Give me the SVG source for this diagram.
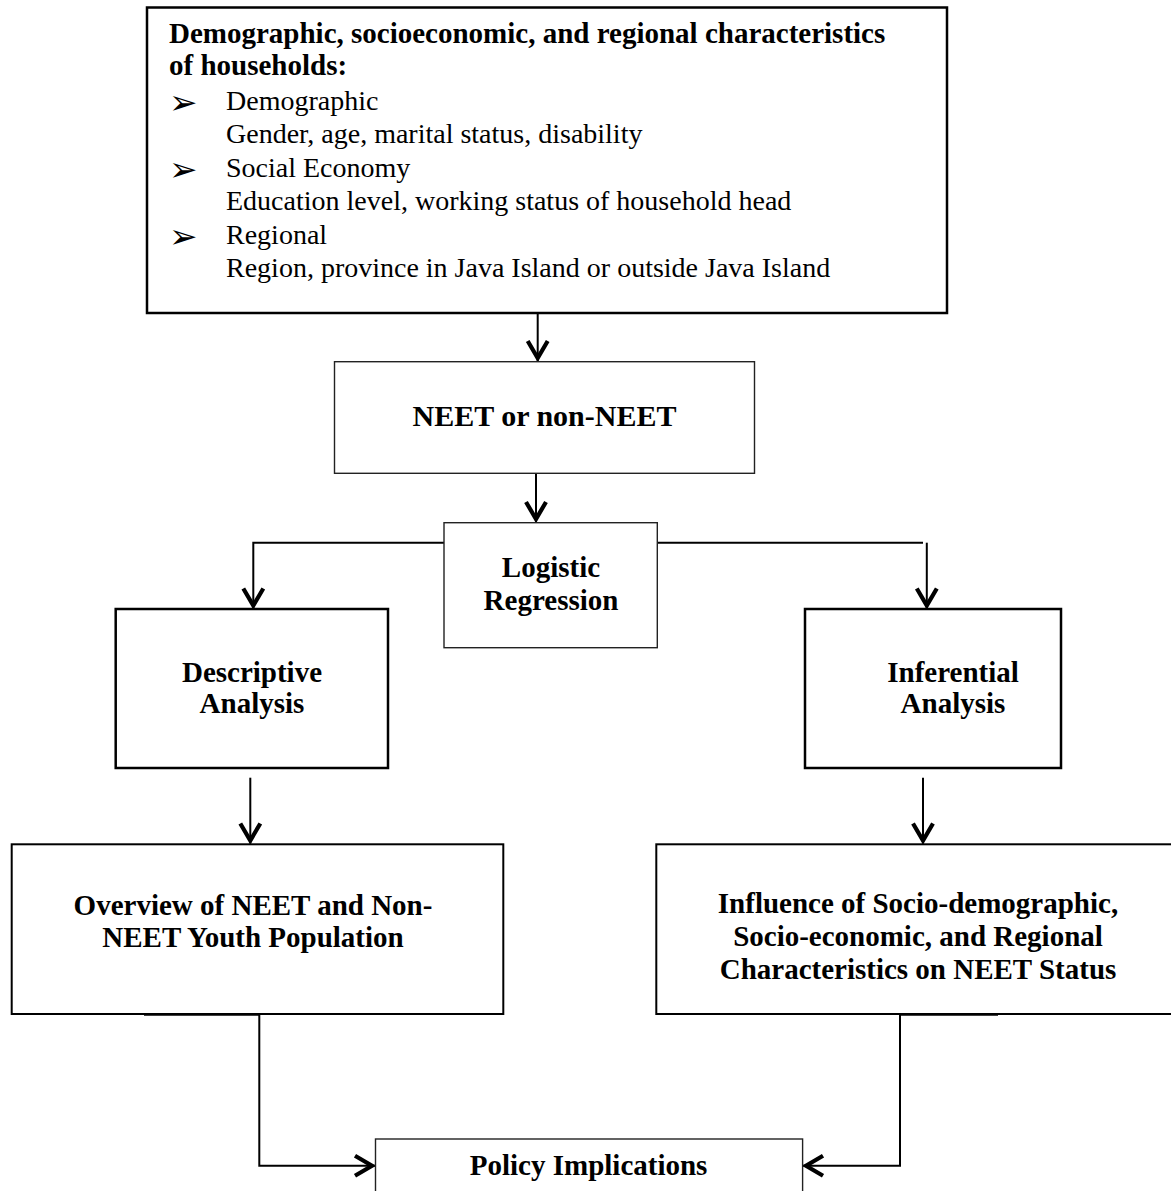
<svg xmlns="http://www.w3.org/2000/svg" width="1171" height="1191" viewBox="0 0 1171 1191">
<style>
  .box { fill: #ffffff; stroke: #000000; }
  .thick { stroke-width: 2.5; }
  .mid { stroke-width: 2; }
  .thin { stroke-width: 1.4; stroke: #222222; }
  .t { font-family: "Liberation Serif", "Times New Roman", serif; fill: #000000; }
  .b { font-weight: bold; font-size: 29px; }
  .r { font-size: 28px; }
  .c { text-anchor: middle; }
  .bul { font-family: "DejaVu Sans", sans-serif; font-size: 34px; fill: #000000; }
  .conn { fill: none; stroke: #000000; stroke-width: 2; }
  .arr { marker-end: url(#head); }
  .seg { fill: none; stroke: #000000; stroke-width: 3.5; }
</style>
<defs>
  <marker id="head" markerUnits="userSpaceOnUse" viewBox="-24 -16 30 32" markerWidth="30" markerHeight="32" refX="3" refY="0" orient="auto" overflow="visible">
    <path d="M -17 -10 L 0 0 L -17 10" fill="none" stroke="#000000" stroke-width="4.2" stroke-linejoin="miter"/>
  </marker>
</defs>
<rect width="1171" height="1191" fill="#ffffff"/>

<g id="connectors">
  <line class="conn arr" x1="537.7" y1="314" x2="537.7" y2="361"/>
  <line class="conn arr" x1="536" y1="473.5" x2="536" y2="522"/>
  <polyline class="conn arr" points="444,542.7 253.3,542.7 253.3,608.5"/>
  <line class="conn" x1="657.3" y1="542.7" x2="923" y2="542.7"/>
  <line class="conn arr" x1="926.8" y1="542.7" x2="926.8" y2="608.5"/>
  <line class="conn arr" x1="250.3" y1="777.7" x2="250.3" y2="843.5"/>
  <line class="conn arr" x1="923" y1="777.7" x2="923" y2="843.5"/>
  <line class="seg" x1="144" y1="1014" x2="260" y2="1014"/>
  <polyline class="conn arr" points="259.3,1014 259.3,1165.7 375,1165.7"/>
  <line class="seg" x1="900" y1="1014" x2="998" y2="1014"/>
  <polyline class="conn arr" points="900,1014 900,1165.7 803,1165.7"/>
</g>

<g id="node-characteristics">
  <rect class="box thick" x="147" y="7.5" width="800" height="305.5"/>
  <text class="t b" x="169" y="43">Demographic, socioeconomic, and regional characteristics</text>
  <text class="t b" x="169" y="75">of households:</text>
  <text class="bul" x="169" y="114">➢</text>
  <text class="t r" x="226" y="110">Demographic</text>
  <text class="t r" x="226" y="143">Gender, age, marital status, disability</text>
  <text class="bul" x="169" y="181">➢</text>
  <text class="t r" x="226" y="177">Social Economy</text>
  <text class="t r" x="226" y="210">Education level, working status of household head</text>
  <text class="bul" x="169" y="248">➢</text>
  <text class="t r" x="226" y="244">Regional</text>
  <text class="t r" x="226" y="277">Region, province in Java Island or outside Java Island</text>
</g>

<g id="node-neet">
  <rect class="box thin" x="334.5" y="361.7" width="420" height="111.6"/>
  <text class="t b c" x="544.5" y="426" style="font-size:30px">NEET or non-NEET</text>
</g>

<g id="node-logistic">
  <rect class="box thin" x="444" y="522.7" width="213.3" height="125"/>
  <text class="t b c" x="551" y="577">Logistic</text>
  <text class="t b c" x="551" y="610">Regression</text>
</g>

<g id="node-descriptive">
  <rect class="box thick" x="115.7" y="609" width="272.3" height="159"/>
  <text class="t b c" x="252" y="682">Descriptive</text>
  <text class="t b c" x="252" y="713">Analysis</text>
</g>

<g id="node-inferential">
  <rect class="box thick" x="805" y="609" width="256" height="159"/>
  <text class="t b c" x="953" y="682">Inferential</text>
  <text class="t b c" x="953" y="713">Analysis</text>
</g>

<g id="node-overview">
  <rect class="box mid" x="11.7" y="844.3" width="491.6" height="169.7"/>
  <text class="t b c" x="253" y="914.5">Overview of NEET and Non-</text>
  <text class="t b c" x="253" y="946.7">NEET Youth Population</text>
</g>

<g id="node-influence">
  <rect class="box mid" x="656.3" y="844.3" width="520" height="169.7"/>
  <text class="t b c" x="918" y="913">Influence of Socio-demographic,</text>
  <text class="t b c" x="918" y="946">Socio-economic, and Regional</text>
  <text class="t b c" x="918" y="979">Characteristics on NEET Status</text>
</g>

<g id="node-policy">
  <rect class="box thin" x="375.5" y="1139" width="427.1" height="70"/>
  <text class="t b c" x="588.6" y="1175">Policy Implications</text>
</g>
</svg>
